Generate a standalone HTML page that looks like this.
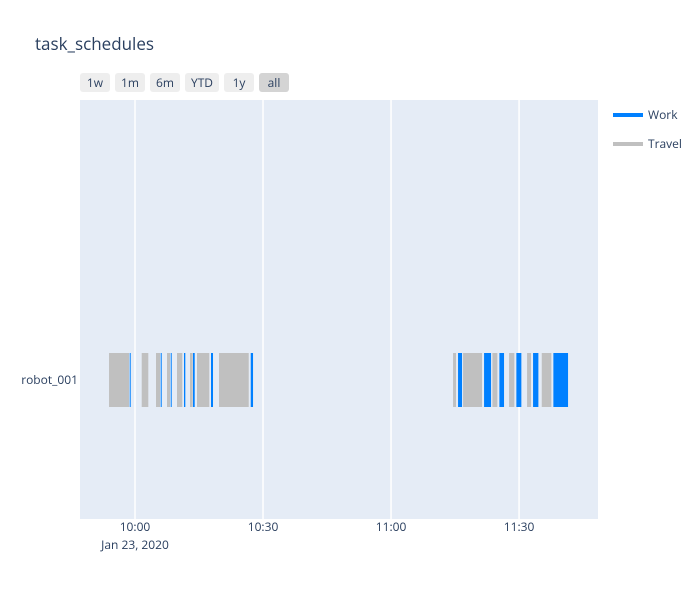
<!DOCTYPE html>
<html><head><meta charset="utf-8"><style>
body{margin:0;background:#fff;font-family:"Open Sans","Liberation Sans",sans-serif;}
svg text{font-family:"Open Sans","Liberation Sans",sans-serif;}
</style></head><body>
<svg id="chart" width="700" height="600" xmlns="http://www.w3.org/2000/svg">
<rect width="700" height="600" fill="#fff"/>
<text x="35" y="50" font-size="17" fill="#2a3f5f">task_schedules</text>
<g id="buttons"></g>
<rect x="80" y="100" width="518" height="419" fill="#e5ecf6"/>
<g id="grid"></g>
<g id="bars"></g>
<g id="xticks"></g>
<text x="78" y="384" font-size="12" fill="#2a3f5f" text-anchor="end">robot_001</text>
<g>
<g><line x1="613" y1="115" x2="643" y2="115" stroke="#0080ff" stroke-width="4"/><text x="648" y="119" font-size="12" fill="#2a3f5f">Work</text></g>
<g><line x1="613" y1="144" x2="643" y2="144" stroke="#c0c0c0" stroke-width="4"/><text x="648" y="148" font-size="12" fill="#2a3f5f">Travel</text></g>
</g>
</svg>
<script>
// minutes after 10:00 on Jan 23, 2020
const travelStart=[-6.09,1.57,4.92,7.5,9.84,12.89,14.53,19.69,74.53,76.88,83.75,87.66,91.88,95.32];
const travelEnd=[-1.41,3.12,5.86,8.2,11.09,13.52,17.41,26.65,75.23,81.33,84.92,88.9,92.81,97.57];
const workStart=[-1.24,6.02,8.37,11.48,13.59,17.81,27.12,75.7,81.8,85.39,89.37,93.28,98.04];
const workEnd=[-1.01,6.26,8.6,11.79,13.99,18.28,27.66,76.64,83.44,86.48,90.54,94.53,101.48];
const tickMinutes=[0,30,60,90];
const tickLabels=["10:00","10:30","11:00","11:30"];
const buttonLabels=["1w","1m","6m","YTD","1y","all"];

const NS="http://www.w3.org/2000/svg";
const xMin=-12.89, xMax=108.5, pL=80, pR=598;
function x(m){return pL+(m-xMin)/(xMax-xMin)*(pR-pL);}
function mk(tag,attrs,parent){const e=document.createElementNS(NS,tag);for(const k in attrs)e.setAttribute(k,attrs[k]);parent.appendChild(e);return e;}

const grid=document.getElementById('grid'), xt=document.getElementById('xticks');
tickMinutes.forEach((m,i)=>{
  const l=mk('line',{x1:x(m),x2:x(m),y1:100,y2:519,stroke:'#fff','stroke-width':1.5},grid);
  
  
  const t=mk('text',{x:x(m),y:531,'font-size':12,fill:'#2a3f5f','text-anchor':'middle'},xt);
  t.textContent=tickLabels[i];
  
  
});
const d=mk('text',{x:x(0),y:549,'font-size':12,fill:'#2a3f5f','text-anchor':'middle'},xt);
d.textContent="Jan 23, 2020";



const bars=document.getElementById('bars');
travelStart.forEach((s,i)=>{
  const r=mk('rect',{x:x(s),y:353,width:x(travelEnd[i])-x(s),height:54,fill:'#c0c0c0'},bars);
  
  
});
workStart.forEach((s,i)=>{
  const r=mk('rect',{x:x(s),y:353,width:Math.max(1,x(workEnd[i])-x(s)),height:54,fill:'#0080ff'},bars);
  
  
});

const bg=document.getElementById('buttons');
const bx=[80,115,150,185,224,259], bw=[30,30,30,34,30,30];
buttonLabels.forEach((b,i)=>{
  const g=mk('g',{},bg);
  
  
  mk('rect',{x:bx[i],y:73,width:bw[i],height:19,rx:3,fill:b==='all'?'#d4d4d4':'#eeeeee'},g);
  const t=mk('text',{x:bx[i]+bw[i]/2,y:87,'font-size':12,fill:'#2a3f5f','text-anchor':'middle'},g);
  t.textContent=b;
});
</script>
</body></html>
